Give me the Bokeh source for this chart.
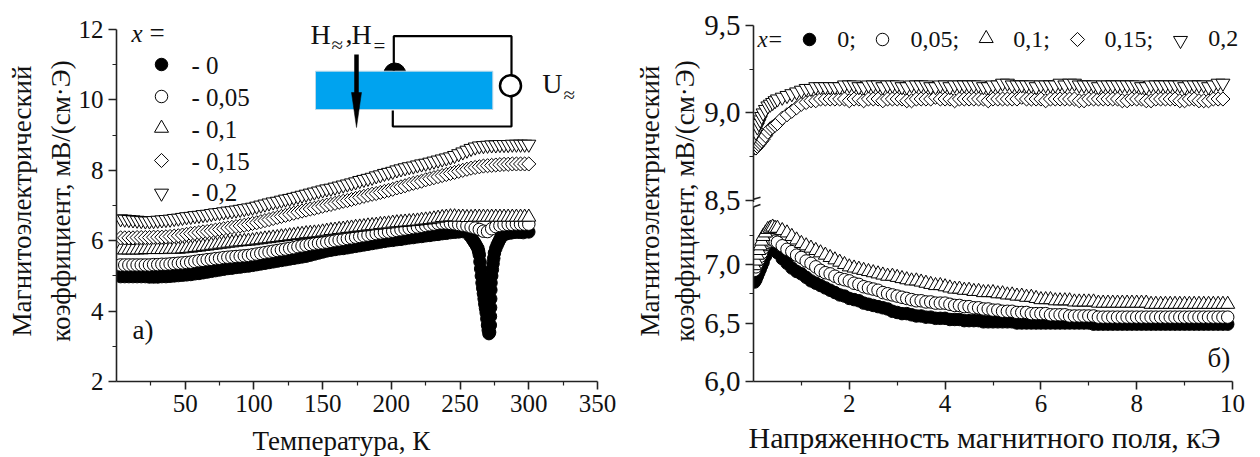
from math import pi
from bokeh.embed import file_html
from bokeh.layouts import row
from bokeh.models import (Arrow, BoxAnnotation, FixedTicker, Label, LinearAxis, Range1d, Title)
from bokeh.plotting import figure
from bokeh.resources import INLINE

FONT = "Liberation Serif"
BLUE = "#00A3EF"

# ---------- panel a: temperature dependence ----------
T = [3, 6, 9, 12, 15, 18, 21, 24, 27, 30,
     33, 36, 39, 42, 45, 48, 51, 54, 57, 60,
     63, 66, 69, 72, 75, 78, 81, 84, 87, 90,
     93, 96, 99, 102, 105, 108, 111, 114, 117, 120,
     123, 126, 129, 132, 135, 138, 141, 144, 147, 150,
     153, 156, 159, 162, 165, 168, 171, 174, 177, 180,
     183, 186, 189, 192, 195, 198, 201, 204, 207, 210,
     213, 216, 219, 222, 225, 228, 231, 234, 237, 240,
     243, 246, 249, 252, 255, 258, 261, 264, 267, 270,
     273, 276, 279, 282, 285, 288, 291, 294, 297, 300]
T0 = T[:85] + [257, 259, 260, 261, 262, 263, 263.5, 264, 264.5, 265, 265.5, 266, 266.5, 267, 267.5,
               268, 268.5, 269, 269.5, 270, 270.5, 271, 271.5, 272, 272.1, 272.2, 272.3, 272.4, 272.5,
               273, 273.5, 274, 274.5, 275, 276, 277, 278, 279, 280, 282, 284, 287, 290, 293, 296, 300]
a_x00 = [4.98, 4.98, 4.98, 4.98, 4.98, 4.98, 4.98, 4.97, 4.97, 4.97,
         4.98, 4.98, 4.99, 5.00, 5.01, 5.02, 5.03, 5.04, 5.06, 5.07,
         5.09, 5.11, 5.13, 5.15, 5.17, 5.19, 5.21, 5.22, 5.24, 5.25,
         5.27, 5.28, 5.30, 5.32, 5.34, 5.36, 5.38, 5.40, 5.42, 5.44,
         5.46, 5.48, 5.50, 5.52, 5.54, 5.56, 5.59, 5.62, 5.65, 5.68,
         5.71, 5.73, 5.75, 5.77, 5.78, 5.80, 5.82, 5.84, 5.86, 5.88,
         5.90, 5.92, 5.94, 5.96, 5.98, 6.00, 6.01, 6.03, 6.04, 6.06,
         6.08, 6.09, 6.11, 6.12, 6.14, 6.15, 6.17, 6.18, 6.20, 6.21,
         6.23, 6.24, 6.25, 6.26, 6.26,
         6.14, 6.04, 5.98, 5.92, 5.85, 5.78, 5.70, 5.60, 5.40, 5.20, 5.00, 4.80, 4.65, 4.50, 4.35,
         4.20, 4.08, 3.95, 3.78, 3.60, 3.46, 3.36, 3.40, 3.60, 3.85, 4.10, 4.35, 4.60, 4.80,
         5.00, 5.18, 5.35, 5.50, 5.65, 5.78, 5.88, 5.96, 6.04, 6.12, 6.17, 6.20, 6.22, 6.24, 6.24, 6.23, 6.25]
a_x05 = [5.31, 5.31, 5.31, 5.31, 5.31, 5.31, 5.31, 5.31, 5.32, 5.32,
         5.33, 5.33, 5.34, 5.35, 5.36, 5.37, 5.38, 5.39, 5.41, 5.43,
         5.44, 5.46, 5.47, 5.49, 5.50, 5.52, 5.53, 5.54, 5.55, 5.56,
         5.57, 5.58, 5.60, 5.62, 5.64, 5.66, 5.68, 5.70, 5.72, 5.74,
         5.76, 5.78, 5.80, 5.83, 5.85, 5.87, 5.89, 5.91, 5.93, 5.94,
         5.96, 5.98, 6.00, 6.02, 6.04, 6.06, 6.08, 6.10, 6.12, 6.14,
         6.16, 6.18, 6.20, 6.22, 6.24, 6.25, 6.27, 6.29, 6.31, 6.33,
         6.35, 6.37, 6.39, 6.41, 6.43, 6.45, 6.47, 6.49, 6.50, 6.50,
         6.49, 6.48, 6.46, 6.44, 6.42, 6.39, 6.36, 6.32, 6.27, 6.26,
         6.34, 6.40, 6.43, 6.45, 6.46, 6.46, 6.47, 6.47, 6.47, 6.47]
a_x10 = [5.74, 5.74, 5.74, 5.74, 5.74, 5.74, 5.75, 5.75, 5.75, 5.75,
         5.75, 5.75, 5.76, 5.76, 5.76, 5.77, 5.78, 5.79, 5.81, 5.82,
         5.84, 5.85, 5.87, 5.88, 5.90, 5.91, 5.93, 5.94, 5.96, 5.97,
         5.98, 5.99, 6.00, 6.02, 6.03, 6.05, 6.06, 6.08, 6.09, 6.11,
         6.12, 6.14, 6.15, 6.17, 6.18, 6.20, 6.21, 6.22, 6.23, 6.25,
         6.27, 6.29, 6.30, 6.32, 6.33, 6.35, 6.36, 6.38, 6.39, 6.40,
         6.42, 6.43, 6.44, 6.46, 6.47, 6.48, 6.50, 6.51, 6.52, 6.53,
         6.54, 6.55, 6.56, 6.58, 6.59, 6.60, 6.62, 6.64, 6.66, 6.67,
         6.68, 6.68, 6.67, 6.67, 6.66, 6.66, 6.67, 6.67, 6.67, 6.67,
         6.67, 6.67, 6.67, 6.67, 6.67, 6.67, 6.67, 6.67, 6.67, 6.67]
a_x15 = [6.08, 6.08, 6.08, 6.08, 6.09, 6.09, 6.09, 6.09, 6.10, 6.10,
         6.10, 6.11, 6.12, 6.13, 6.14, 6.16, 6.18, 6.20, 6.21, 6.23,
         6.25, 6.26, 6.28, 6.30, 6.32, 6.34, 6.36, 6.38, 6.40, 6.42,
         6.44, 6.46, 6.49, 6.51, 6.54, 6.57, 6.60, 6.63, 6.66, 6.69,
         6.72, 6.75, 6.78, 6.81, 6.84, 6.87, 6.90, 6.92, 6.95, 6.98,
         7.01, 7.03, 7.06, 7.09, 7.12, 7.14, 7.17, 7.20, 7.23, 7.26,
         7.29, 7.32, 7.34, 7.37, 7.40, 7.43, 7.46, 7.50, 7.53, 7.56,
         7.60, 7.63, 7.66, 7.69, 7.73, 7.76, 7.79, 7.82, 7.85, 7.88,
         7.91, 7.94, 7.97, 8.00, 8.03, 8.06, 8.08, 8.10, 8.12, 8.13,
         8.14, 8.15, 8.16, 8.17, 8.17, 8.18, 8.18, 8.18, 8.18, 8.18]
a_x20 = [6.62, 6.61, 6.60, 6.59, 6.58, 6.57, 6.56, 6.56, 6.57, 6.58,
         6.59, 6.60, 6.61, 6.63, 6.64, 6.66, 6.68, 6.69, 6.71, 6.72,
         6.74, 6.75, 6.77, 6.79, 6.80, 6.82, 6.84, 6.85, 6.87, 6.89,
         6.91, 6.93, 6.95, 6.98, 7.01, 7.04, 7.07, 7.10, 7.12, 7.15,
         7.18, 7.20, 7.23, 7.26, 7.29, 7.32, 7.35, 7.38, 7.41, 7.44,
         7.47, 7.49, 7.52, 7.55, 7.58, 7.61, 7.64, 7.67, 7.71, 7.74,
         7.77, 7.80, 7.84, 7.87, 7.91, 7.94, 7.97, 8.01, 8.04, 8.07,
         8.10, 8.12, 8.15, 8.18, 8.20, 8.23, 8.26, 8.29, 8.32, 8.35,
         8.38, 8.42, 8.47, 8.52, 8.57, 8.62, 8.66, 8.69, 8.70, 8.71,
         8.72, 8.72, 8.73, 8.73, 8.73, 8.74, 8.74, 8.74, 8.74, 8.74]

# ---------- panel b: field dependence ----------
H = [0.02, 0.05, 0.08, 0.11, 0.14, 0.17, 0.2, 0.25, 0.3, 0.35, 0.4, 0.45, 0.5,
     0.6, 0.7, 0.8, 0.9, 1.0, 1.1, 1.2, 1.3, 1.4, 1.5,
     1.6, 1.7, 1.8, 1.9, 2.0, 2.1, 2.2, 2.3, 2.4, 2.5,
     2.6, 2.7, 2.8, 2.9, 3.0, 3.1, 3.2, 3.3, 3.4, 3.5,
     3.6, 3.7, 3.8, 3.9, 4.0, 4.1, 4.2, 4.3, 4.4, 4.5,
     4.6, 4.7, 4.8, 4.9, 5.0, 5.1, 5.2, 5.3, 5.4, 5.5,
     5.6, 5.7, 5.8, 5.9, 6.0, 6.1, 6.2, 6.3, 6.4, 6.5,
     6.6, 6.7, 6.8, 6.9, 7.0, 7.1, 7.2, 7.3, 7.4, 7.5,
     7.6, 7.7, 7.8, 7.9, 8.0, 8.1, 8.2, 8.3, 8.4, 8.5,
     8.6, 8.7, 8.8, 8.9, 9.0, 9.1, 9.2, 9.3, 9.4, 9.5,
     9.6, 9.7, 9.8, 9.9]
b_x00 = [6.85, 6.87, 6.90, 6.93, 6.96, 6.99, 7.02, 7.07, 7.12, 7.14, 7.15, 7.13, 7.10,
         7.05, 7.01, 6.97, 6.94, 6.92, 6.89, 6.86, 6.84, 6.82, 6.80,
         6.78, 6.76, 6.74, 6.73, 6.71, 6.70, 6.69, 6.67, 6.66, 6.65,
         6.64, 6.63, 6.62, 6.60, 6.59, 6.58, 6.58, 6.57, 6.56, 6.56,
         6.55, 6.55, 6.54, 6.54, 6.54, 6.53, 6.53, 6.53, 6.52, 6.52,
         6.52, 6.52, 6.51, 6.51, 6.51, 6.51, 6.51, 6.51, 6.51, 6.50,
         6.50, 6.50, 6.50, 6.50, 6.50, 6.50, 6.50, 6.50, 6.50, 6.50,
         6.50, 6.50, 6.50, 6.50, 6.50, 6.49, 6.49, 6.49, 6.49, 6.49,
         6.49, 6.49, 6.49, 6.49, 6.49, 6.49, 6.49, 6.49, 6.49, 6.49,
         6.49, 6.49, 6.49, 6.49, 6.49, 6.49, 6.49, 6.49, 6.49, 6.49,
         6.49, 6.49, 6.49, 6.49]
b_x05 = [6.95, 6.98, 7.01, 7.04, 7.07, 7.10, 7.14, 7.17, 7.19, 7.20, 7.21, 7.20, 7.19,
         7.16, 7.13, 7.11, 7.08, 7.06, 7.03, 7.01, 6.98, 6.95, 6.93,
         6.92, 6.90, 6.88, 6.87, 6.86, 6.84, 6.83, 6.81, 6.80, 6.79,
         6.78, 6.76, 6.75, 6.74, 6.73, 6.72, 6.71, 6.70, 6.69, 6.69,
         6.68, 6.68, 6.67, 6.67, 6.67, 6.66, 6.65, 6.65, 6.64, 6.64,
         6.63, 6.63, 6.62, 6.62, 6.61, 6.61, 6.60, 6.60, 6.60, 6.59,
         6.59, 6.59, 6.58, 6.58, 6.58, 6.58, 6.57, 6.57, 6.57, 6.57,
         6.56, 6.56, 6.56, 6.56, 6.56, 6.56, 6.55, 6.55, 6.55, 6.55,
         6.55, 6.55, 6.55, 6.55, 6.55, 6.55, 6.55, 6.55, 6.55, 6.55,
         6.55, 6.55, 6.55, 6.55, 6.55, 6.55, 6.55, 6.55, 6.55, 6.55,
         6.55, 6.55, 6.55, 6.55]
b_x10 = [6.99, 7.03, 7.08, 7.12, 7.16, 7.20, 7.24, 7.27, 7.30, 7.31, 7.32, 7.31, 7.31,
         7.29, 7.27, 7.24, 7.21, 7.18, 7.16, 7.14, 7.12, 7.10, 7.08,
         7.06, 7.04, 7.02, 7.00, 6.98, 6.97, 6.96, 6.95, 6.94, 6.93,
         6.92, 6.91, 6.90, 6.90, 6.89, 6.88, 6.87, 6.86, 6.86, 6.85,
         6.84, 6.83, 6.82, 6.82, 6.81, 6.80, 6.79, 6.79, 6.78, 6.78,
         6.77, 6.77, 6.76, 6.76, 6.76, 6.75, 6.75, 6.74, 6.74, 6.73,
         6.73, 6.72, 6.72, 6.71, 6.70, 6.70, 6.70, 6.69, 6.69, 6.69,
         6.69, 6.68, 6.68, 6.68, 6.68, 6.68, 6.67, 6.67, 6.67, 6.67,
         6.67, 6.67, 6.67, 6.67, 6.67, 6.67, 6.67, 6.66, 6.66, 6.66,
         6.66, 6.66, 6.66, 6.66, 6.66, 6.66, 6.66, 6.66, 6.66, 6.66,
         6.66, 6.66, 6.66, 6.66]
b_x15 = [8.80, 8.80, 8.81, 8.82, 8.83, 8.84, 8.85, 8.87, 8.89, 8.91, 8.92, 8.93, 8.94,
         8.97, 8.99, 9.01, 9.03, 9.05, 9.06, 9.07, 9.07, 9.08, 9.08,
         9.08, 9.08, 9.08, 9.08, 9.07, 9.08, 9.08, 9.07, 9.08, 9.08,
         9.08, 9.07, 9.08, 9.08, 9.08, 9.08, 9.07, 9.07, 9.08, 9.08,
         9.08, 9.08, 9.09, 9.08, 9.08, 9.08, 9.07, 9.08, 9.08, 9.08,
         9.08, 9.08, 9.08, 9.07, 9.08, 9.08, 9.08, 9.08, 9.08, 9.08,
         9.09, 9.08, 9.08, 9.08, 9.08, 9.07, 9.08, 9.08, 9.08, 9.08,
         9.08, 9.08, 9.07, 9.07, 9.08, 9.08, 9.08, 9.08, 9.08, 9.08,
         9.08, 9.07, 9.07, 9.08, 9.08, 9.08, 9.07, 9.07, 9.08, 9.08,
         9.08, 9.08, 9.08, 9.07, 9.07, 9.08, 9.08, 9.07, 9.07, 9.07,
         9.08, 9.08, 9.08]
b_x20 = [8.87, 8.89, 8.92, 8.94, 8.96, 8.98, 9.00, 9.02, 9.04, 9.05, 9.06, 9.07, 9.08,
         9.09, 9.10, 9.11, 9.12, 9.13, 9.14, 9.14, 9.15, 9.15, 9.15,
         9.15, 9.15, 9.15, 9.16, 9.16, 9.16, 9.15, 9.15, 9.16, 9.16,
         9.16, 9.15, 9.16, 9.16, 9.16, 9.15, 9.15, 9.16, 9.16, 9.16,
         9.16, 9.15, 9.15, 9.16, 9.16, 9.15, 9.16, 9.16, 9.16, 9.16,
         9.16, 9.16, 9.15, 9.15, 9.16, 9.16, 9.17, 9.17, 9.16, 9.16,
         9.16, 9.16, 9.16, 9.15, 9.16, 9.16, 9.16, 9.16, 9.17, 9.16,
         9.17, 9.17, 9.16, 9.16, 9.16, 9.16, 9.15, 9.16, 9.16, 9.16,
         9.16, 9.16, 9.16, 9.16, 9.16, 9.15, 9.15, 9.16, 9.16, 9.16,
         9.16, 9.16, 9.16, 9.16, 9.15, 9.16, 9.16, 9.16, 9.16, 9.15,
         9.16, 9.17, 9.17]
H_upper = H[:-1]

NAMES_A = ["- 0", "- 0,05", "- 0,1", "- 0,15", "- 0,2"]
NAMES_B = ["0;", "0,05;", "0,1;", "0,15;", "0,2"]
Y_TITLE = "Магнитоэлектрический\nкоэффициент, мВ/(см·Э)"

# marker styles shared by both panels
STY = [dict(marker="circle", size=12.5, fill_color="black", line_color="black"),
       dict(marker="circle", size=12.5, fill_color="white", line_color="black"),
       dict(marker="triangle", size=14, fill_color="white", line_color="black"),
       dict(marker="square", size=10, angle=pi / 4, fill_color="white", line_color="black"),
       dict(marker="inverted_triangle", size=14, fill_color="white", line_color="black")]

F_BOT, F_TOP = 381, 20  # frame edges in page pixels, shared by both panels (a row aligns them)


def style_axis(ax, tick_size):
    ax.axis_line_width = 1.6
    ax.axis_line_color = "#222222"
    ax.major_tick_line_color = "#222222"
    ax.minor_tick_line_color = "#222222"
    ax.major_tick_line_width = 1.6
    ax.minor_tick_line_width = 1.2
    ax.major_tick_out = 8
    ax.major_tick_in = 0
    ax.minor_tick_out = 4
    ax.minor_tick_in = 0
    ax.major_label_text_font = FONT
    ax.major_label_text_font_size = f"{tick_size}px"
    ax.major_label_text_color = "#111111"
    ax.major_label_standoff = 5
    ax.axis_label_text_font = FONT
    ax.axis_label_text_font_style = "normal"
    ax.axis_label_text_font_size = "27px"
    ax.axis_label_text_color = "#111111"


def base_fig(width, left, right, xr, yr):
    p = figure(width=width, height=465, x_range=xr, y_range=yr, toolbar_location=None,
               output_backend="svg", min_border_left=left, min_border_right=right,
               min_border_top=F_TOP, min_border_bottom=465 - F_BOT, x_axis_location=None,
               y_axis_location=None, tools="", background_fill_color="white",
               border_fill_color=None)
    p.outline_line_color = None
    p.grid.visible = False
    return p


def text(p, PX, PY, px, py, s, size, style="normal"):
    """py is the baseline in page pixels; the label is anchored at digit mid-height."""
    p.add_layout(Label(x=PX(px), y=PY(py - 0.33 * size), text=s, text_font=FONT,
                       text_font_size=f"{size}px", text_font_style=style,
                       text_color="#111111", text_baseline="middle"))


def x_title(p, s, offset, standoff, size):
    p.add_layout(Title(text=s, align="left", offset=offset, standoff=standoff, text_font=FONT,
                       text_font_size=f"{size}px", text_font_style="normal", text_color="#111111",
                       text_line_height=0.75),
                 "below")


# ================= panel a =================
PXA = lambda px: (px - 116) * 350 / 481
PYA = lambda py: 2 + (F_BOT - py) * 10 / 352
# the frame reaches above the 12 tick so the inset's lettering is not cut; the axis stops at 12
pa = base_fig(623, 116, 26, Range1d(0, 350), Range1d(2, PYA(F_TOP)))

xa = LinearAxis(ticker=FixedTicker(ticks=[50, 100, 150, 200, 250, 300, 350],
                                   minor_ticks=[25, 75, 125, 175, 225, 275, 325]))
ya = LinearAxis(ticker=FixedTicker(ticks=[2, 4, 6, 8, 10, 12], minor_ticks=[3, 5, 7, 9, 11]),
                axis_label=Y_TITLE, bounds=(2, 12))
style_axis(xa, 25)
style_axis(ya, 25)
ya.axis_label_text_line_height = 1.28
ya.axis_label_standoff = 0
pa.add_layout(xa, "below")
pa.add_layout(ya, "left")
x_title(pa, "Температура, К", 136, 18, 27)

# inset: sample scheme
pa.wedge(x=[PXA(394.3)], y=[PYA(73.5)], radius=11, radius_units="screen",
         start_angle=0, end_angle=pi, color="black")
pa.quad(left=[PXA(315)], right=[PXA(492.3)], top=[PYA(70.7)], bottom=[PYA(109)],
        fill_color=BLUE, line_color="#BBD8E8", line_width=1)
pa.line(x=[PXA(393.3), PXA(393.3), PXA(511), PXA(511)], y=[PYA(70), PYA(35.7), PYA(35.7), PYA(76)],
        line_color="black", line_width=2.2)
pa.line(x=[PXA(511), PXA(511), PXA(392.3), PXA(392.3)], y=[PYA(95), PYA(126), PYA(126), PYA(110)],
        line_color="black", line_width=2.2)
pa.scatter(x=[PXA(510)], y=[PYA(85.3)], marker="circle", size=21, fill_color="white",
           line_color="black", line_width=2.5)
pa.line(x=[PXA(356), PXA(356)], y=[PYA(54), PYA(95)], line_color="black", line_width=4.5)
pa.patch(x=[PXA(351), PXA(361), PXA(356)], y=[PYA(92), PYA(92), PYA(127)],
         fill_color="black", line_color="black", line_width=0.5)

for tx, vals, st in zip([T0, T, T, T, T], [a_x00, a_x05, a_x10, a_x15, a_x20], STY):
    pa.scatter(x=tx, y=vals, line_width=1, **st)

# key of panel a
for name, st, ym, yb_ in zip(NAMES_A, STY, [64, 96, 127.7, 160, 192.7], [73.3, 105, 137, 169, 200]):
    pa.scatter(x=[PXA(161)], y=[PYA(ym)], line_width=1, **st)
    text(pa, PXA, PYA, 191, yb_, name, 25)

text(pa, PXA, PYA, 131, 41, "x", 25, "italic")
text(pa, PXA, PYA, 149, 41, "=", 27)
text(pa, PXA, PYA, 132, 338, "а)", 27)
text(pa, PXA, PYA, 310, 43, "H", 28)
text(pa, PXA, PYA, 331, 51, "≈", 21)
text(pa, PXA, PYA, 345, 43, ",", 28)
text(pa, PXA, PYA, 351, 43, "H", 28)
text(pa, PXA, PYA, 373, 52, "=", 21)
text(pa, PXA, PYA, 541.7, 92.7, "U", 28)
text(pa, PXA, PYA, 563, 101, "≈", 21)

# ================= panel b =================
# Lower segment carries the primary range; upper segment has its own range of a different scale.
AX_TOP, BRK_HI, BRK_LO = 25, 200, 207
LOWER_PX = 117.0
UPPER_PX = 175.0
lower_end = 6 + (F_BOT - F_TOP) / LOWER_PX
upper_start = 8.5 - (F_BOT - BRK_HI) / UPPER_PX
upper_end = 9.5 + (AX_TOP - F_TOP) / UPPER_PX
XB_PX = 47.9
pb = base_fig(627, 130, 4, Range1d(0, 493 / XB_PX), Range1d(6, lower_end))
pb.extra_y_ranges = {"upper": Range1d(upper_start, upper_end)}
PXB = lambda px: (px - 753) / XB_PX
PYB = lambda py: 6 + (F_BOT - py) / LOWER_PX
up2low = lambda v: round(PYB(BRK_HI - (v - 8.5) * UPPER_PX), 4)

xb = LinearAxis(ticker=FixedTicker(ticks=[2, 4, 6, 8, 10], minor_ticks=[1, 3, 5, 7, 9]),
                bounds=(0, 10))
major = [6.0, 6.5, 7.0, up2low(8.5), up2low(9.0), up2low(9.5)]
minor = [6.25, 6.75, 7.25, up2low(8.75), up2low(9.25)]
yb = LinearAxis(ticker=FixedTicker(ticks=major, minor_ticks=minor), axis_label=Y_TITLE,
                bounds=(6, up2low(9.5)))
yb.major_label_overrides = dict(zip(major, ["6,0", "6,5", "7,0", "8,5", "9,0", "9,5"]))
style_axis(xb, 25)
style_axis(yb, 29)
yb.axis_label_text_line_height = 1.18
yb.axis_label_standoff = 1
pb.add_layout(xb, "below")
pb.add_layout(yb, "left")
x_title(pb, "Напряженность магнитного поля, кЭ", -5, 8, 30)

for i, (tx, vals, st) in enumerate(zip([H, H, H, H_upper, H_upper],
                                       [b_x00, b_x05, b_x10, b_x15, b_x20], STY)):
    kw = {"y_range_name": "upper"} if i >= 3 else {}
    pb.scatter(x=tx, y=vals, line_width=1, **st, **kw)

# key of panel b
for name, st, xm, ym, xt in zip(NAMES_B, STY, [809, 882, 985.7, 1077, 1180], [39, 39, 38, 39, 40],
                                [836.7, 910, 1012.7, 1104, 1207.7]):
    pb.scatter(x=[PXB(xm)], y=[PYB(ym)], line_width=1, **st)
    text(pb, PXB, PYB, xt, 46, name, 24)

# axis break
pb.add_layout(BoxAnnotation(left=PXB(744), right=PXB(762), bottom=PYB(BRK_LO - 1), top=PYB(BRK_HI + 1.5),
                            fill_color="white", fill_alpha=1, line_color=None))
for y0, y1 in [(201, 196.7), (209.3, 204)]:
    pb.add_layout(Arrow(end=None, x_start=PXB(745), y_start=PYB(y0), x_end=PXB(760), y_end=PYB(y1),
                        line_color="#222222", line_width=1.5))

text(pb, PXB, PYB, 757, 46.7, "x", 23, "italic")
text(pb, PXB, PYB, 768, 46.7, "=", 24)
text(pb, PXB, PYB, 1207, 366.7, "б)", 27)

open("out.html", "w").write(file_html(row(pa, pb), INLINE))
